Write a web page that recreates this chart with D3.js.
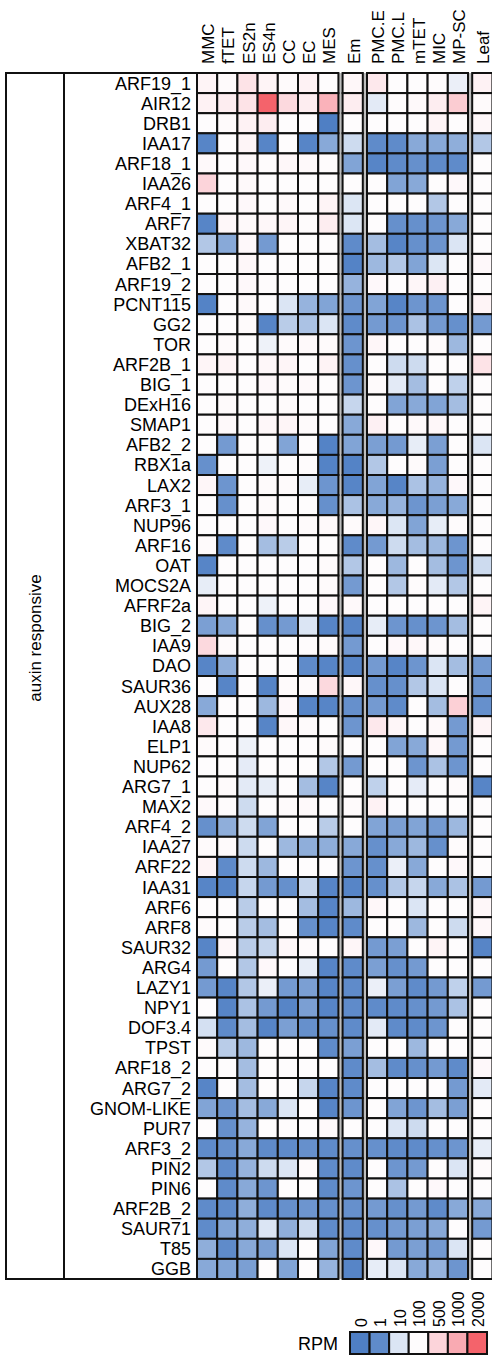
<!DOCTYPE html>
<html>
<head>
<meta charset="utf-8">
<script src="https://cdn.jsdelivr.net/npm/d3@7"></script>
<style>
  body { margin: 0; background: #fff; }
  svg { display: block; font-family: Arial, "Liberation Sans", sans-serif; }
</style>
</head>
<body>
<div id="chart"></div>
<script>
var samples = ["MMC", "fTET", "ES2n", "ES4n", "CC", "EC", "MES", "Em", "PMC.E", "PMC.L", "mTET", "MIC", "MP-SC", "Leaf"]
var sampleGroup = [0, 0, 0, 0, 0, 0, 0, 1, 2, 2, 2, 2, 2, 3]

var genes = ["ARF19_1", "AIR12", "DRB1", "IAA17", "ARF18_1", "IAA26", "ARF4_1", "ARF7", "XBAT32", "AFB2_1",
    "ARF19_2", "PCNT115", "GG2", "TOR", "ARF2B_1", "BIG_1", "DExH16", "SMAP1", "AFB2_2", "RBX1a",
    "LAX2", "ARF3_1", "NUP96", "ARF16", "OAT", "MOCS2A", "AFRF2a", "BIG_2", "IAA9", "DAO",
    "SAUR36", "AUX28", "IAA8", "ELP1", "NUP62", "ARG7_1", "MAX2", "ARF4_2", "IAA27", "ARF22",
    "IAA31", "ARF6", "ARF8", "SAUR32", "ARG4", "LAZY1", "NPY1", "DOF3.4", "TPST", "ARF18_2",
    "ARG7_2", "GNOM-LIKE", "PUR7", "ARF3_2", "PIN2", "PIN6", "ARF2B_2", "SAUR71", "T85", "GGB"]

var groupLabel = "auxin responsive"

// RPM per gene, columns in the order of samples
var rpm = [
    [180, 120, 350, 180, 120, 200, 100, 150, 300, 100, 100, 110, 50, 200],
    [200, 250, 350, 2000, 450, 250, 900, 250, 30, 110, 130, 250, 600, 120],
    [100, 120, 200, 250, 100, 100, 0, 100, 100, 100, 100, 180, 100, 150],
    [0.5, 100, 170, 0.5, 100, 0.5, 4, 9, 1, 1, 4, 4, 4.5, 7],
    [130, 100, 140, 110, 150, 130, 110, 3.5, 0.5, 1, 1.5, 1, 1, 100],
    [500, 100, 130, 100, 100, 100, 100, 100, 100, 3.5, 4, 100, 140, 100],
    [100, 100, 140, 100, 130, 100, 180, 12, 100, 100, 100, 7, 100, 100],
    [0.5, 150, 130, 150, 170, 110, 250, 12, 100, 1.5, 1.5, 2, 4, 100],
    [7, 4, 140, 2.5, 100, 100, 100, 1, 6, 0.5, 1.5, 2, 10, 100],
    [100, 100, 150, 100, 100, 100, 100, 0.3, 5.5, 7, 3.5, 12, 100, 140],
    [100, 100, 140, 110, 100, 100, 100, 5, 140, 100, 160, 220, 100, 100],
    [0.3, 100, 130, 100, 11, 5, 3.5, 2, 3.5, 0.5, 2, 2, 100, 180],
    [100, 100, 120, 0.5, 7.5, 6.5, 10, 1, 2.5, 2, 6.5, 2.5, 1.5, 2.5],
    [100, 120, 100, 60, 120, 130, 120, 2, 160, 100, 100, 120, 5.5, 100],
    [170, 180, 100, 150, 170, 100, 190, 1.5, 100, 9, 9, 100, 100, 350],
    [100, 100, 100, 140, 120, 130, 100, 2, 120, 30, 6, 100, 8, 100],
    [100, 120, 100, 100, 120, 100, 100, 8.5, 100, 3.5, 4, 3.5, 6, 100],
    [100, 130, 100, 150, 170, 120, 100, 4, 220, 100, 130, 150, 100, 100],
    [100, 2.5, 100, 100, 3.5, 100, 0.3, 3.5, 3, 2.5, 40, 3, 100, 11],
    [1.5, 100, 100, 60, 100, 110, 0.3, 0.3, 7, 100, 120, 3, 100, 100],
    [160, 2, 100, 120, 120, 40, 2, 0.5, 3.5, 0.5, 6.5, 5, 140, 100],
    [100, 1.5, 100, 120, 100, 100, 1.5, 6.5, 4, 5, 2, 3, 4, 100],
    [100, 100, 100, 140, 100, 120, 130, 120, 160, 12, 3.5, 40, 110, 100],
    [120, 1, 100, 6, 7.5, 100, 100, 1, 2.5, 9, 6, 5.5, 2, 100],
    [0.5, 100, 100, 100, 100, 100, 120, 7, 100, 5.5, 100, 6, 2, 9],
    [40, 100, 100, 100, 100, 100, 120, 2.5, 100, 7, 110, 30, 7, 100],
    [170, 100, 100, 60, 100, 100, 140, 130, 100, 100, 100, 100, 100, 180],
    [3, 4, 100, 1.5, 2.5, 10, 0.5, 0.5, 40, 2, 1.5, 2, 6, 100],
    [450, 120, 100, 100, 100, 110, 120, 2.5, 100, 140, 150, 120, 100, 100],
    [0.5, 4.5, 100, 100, 100, 1, 0.5, 0.5, 2.5, 0.5, 2, 10, 6, 2.5],
    [100, 0.5, 100, 0.5, 120, 120, 450, 150, 1.5, 1.5, 7, 11, 100, 2],
    [4, 100, 100, 5.5, 140, 0.5, 0.5, 1.5, 2.5, 1, 100, 6, 550, 1.5],
    [300, 100, 100, 0.5, 150, 120, 100, 2, 300, 160, 100, 130, 2.5, 180],
    [120, 100, 60, 100, 100, 100, 120, 100, 100, 3.5, 4, 150, 2.5, 100],
    [100, 100, 35, 100, 100, 100, 7, 2.5, 100, 100, 2, 6.5, 2, 100],
    [100, 120, 30, 40, 100, 6, 0.5, 100, 8, 100, 35, 100, 120, 0.5],
    [130, 110, 9, 100, 120, 130, 100, 120, 200, 100, 100, 100, 100, 100],
    [1.5, 4.5, 9, 3.5, 100, 100, 7.5, 100, 3.5, 3, 3.5, 2.5, 5.5, 100],
    [120, 120, 9, 100, 5.5, 4.5, 4.5, 4, 1.5, 4, 5.5, 1.5, 110, 100],
    [180, 1, 9, 5.5, 100, 100, 100, 2, 1.5, 50, 4, 100, 140, 100],
    [0.5, 0.5, 8.5, 2.5, 1.5, 8.5, 0.5, 0.5, 1.5, 7, 8.5, 4, 6.5, 2.5],
    [100, 100, 7.5, 100, 100, 6, 0.5, 5.5, 150, 100, 11, 100, 100, 150],
    [120, 100, 7.5, 6, 100, 1.5, 0.5, 1, 100, 100, 5.5, 100, 9, 150],
    [0.5, 150, 7.5, 8.5, 150, 120, 100, 160, 2.5, 3, 100, 180, 100, 0.5],
    [2.5, 100, 7, 140, 100, 40, 0.5, 1, 3, 1.5, 2.5, 100, 100, 100],
    [2.5, 0.5, 7, 50, 2.5, 3, 0.5, 1, 50, 3, 1, 2.5, 8, 2.5],
    [100, 0.5, 6.5, 2.5, 0.5, 3, 0.5, 1, 1, 1, 1.5, 2.5, 6.5, 100],
    [9.5, 1, 6, 0.5, 3, 1.5, 1.5, 1, 30, 1, 1, 2, 100, 100],
    [120, 7.5, 5.5, 100, 100, 100, 1, 3, 100, 100, 5.5, 100, 100, 100],
    [100, 100, 6, 100, 100, 100, 100, 1, 6, 1, 1.5, 2.5, 1, 140],
    [0.5, 100, 6, 100, 100, 8.5, 0.5, 1, 100, 100, 100, 100, 2.5, 30],
    [3.5, 2, 6, 4, 10, 100, 0.5, 2, 100, 3.5, 2, 6, 3, 100],
    [100, 1.5, 5, 100, 110, 100, 130, 105, 100, 11, 9, 100, 100, 100],
    [1, 1.5, 4, 1, 1, 1.5, 1, 1.5, 1.5, 1, 1, 1.5, 2, 40],
    [7, 1, 5, 9, 10, 120, 1, 1, 100, 2, 2.5, 100, 10, 120],
    [100, 1, 4, 2, 100, 100, 1, 2, 100, 6.5, 100, 140, 100, 100],
    [1, 1, 4.5, 1, 1.5, 2, 1.5, 1.5, 2.5, 1.5, 2.5, 1, 4, 4],
    [1, 3.5, 4.5, 10, 4.5, 9, 1, 1, 1.5, 2.5, 3, 4, 100, 2.5],
    [4.5, 1, 4, 3, 10, 100, 3.5, 1, 140, 2.5, 3, 2.5, 10, 100],
    [4, 3.5, 3, 100, 3.5, 100, 5, 0.5, 40, 11, 4, 5, 2, 100]
]

var legendValues = [0, 1, 10, 100, 500, 1000, 2000]
var legendColors = ["#4f7fc4", "#5f8bca", "#dbe5f4", "#fefcfd", "#fcd4da", "#f9aab2", "#f4636b"]
var legendTitle = "RPM"

var width = 492, height = 1355
var svg = d3.select("#chart").append("svg")
    .attr("width", width)
    .attr("height", height)

var color = d3.scaleLinear()
    .domain(legendValues)
    .range(legendColors)
    .clamp(true)

var cw = 20.2, gap = 4.2, x0 = 197
var gridTop = 73, gridBottom = 1279

var x = d3.scaleLinear()
    .domain([0, samples.length])
    .range([x0, x0 + samples.length * cw])

function colX(i) {
    return x(i) + sampleGroup[i] * gap
}

var y = d3.scaleBand()
    .domain(genes)
    .range([gridTop, gridBottom])

// grey spacers between the sample groups
var gaps = d3.range(1, 4).map(g => {
    var first = sampleGroup.indexOf(g)
    return [colX(first - 1) + cw, colX(first)]
})
svg.append("g")
    .selectAll("rect")
    .data(gaps)
    .join("rect")
    .attr("x", d => d[0])
    .attr("width", d => d[1] - d[0])
    .attr("y", gridTop)
    .attr("height", gridBottom - gridTop)
    .attr("fill", "#bdbdbd")

var cells = []
rpm.forEach((row, i) => row.forEach((v, j) => cells.push({ gene: genes[i], col: j, v: v })))

svg.append("g")
    .attr("stroke", "#111")
    .attr("stroke-width", 2)
    .selectAll("rect")
    .data(cells)
    .join("rect")
    .attr("x", d => colX(d.col))
    .attr("y", d => y(d.gene))
    .attr("width", cw)
    .attr("height", y.bandwidth())
    .attr("fill", d => color(d.v))

// label frame
svg.append("rect")
    .attr("x", 6)
    .attr("y", gridTop)
    .attr("width", x0 - 6)
    .attr("height", gridBottom - gridTop)
    .attr("fill", "none")
    .attr("stroke", "#111")
    .attr("stroke-width", 2)
svg.append("line")
    .attr("x1", 64).attr("x2", 64)
    .attr("y1", gridTop).attr("y2", gridBottom)
    .attr("stroke", "#111")
    .attr("stroke-width", 2)

svg.append("text")
    .attr("transform", "translate(35,638) rotate(-90)")
    .attr("text-anchor", "middle")
    .attr("dy", "0.35em")
    .attr("font-size", 17)
    .text(groupLabel)

svg.append("g")
    .attr("font-size", 18)
    .attr("text-anchor", "end")
    .selectAll("text")
    .data(genes)
    .join("text")
    .attr("x", 191)
    .attr("y", d => y(d) + y.bandwidth() / 2)
    .attr("dy", "0.36em")
    .text(d => d)

svg.append("g")
    .attr("font-size", 17)
    .selectAll("text")
    .data(samples)
    .join("text")
    .attr("transform", (d, i) => `translate(${colX(i) + cw / 2 + 1},64) rotate(-90)`)
    .attr("dy", "0.36em")
    .text(d => d)

// legend
var lx = d3.scaleBand()
    .domain(legendValues)
    .range([350, 487])

var legend = svg.append("g")
legend.selectAll("rect")
    .data(legendValues)
    .join("rect")
    .attr("x", d => lx(d))
    .attr("y", 1332)
    .attr("width", lx.bandwidth())
    .attr("height", 22)
    .attr("fill", d => color(d))
    .attr("stroke", "#111")
    .attr("stroke-width", 2)
legend.selectAll("text")
    .data(legendValues)
    .join("text")
    .attr("font-size", 16)
    .attr("transform", d => `translate(${lx(d) + lx.bandwidth() / 2 + 1},1327) rotate(-90)`)
    .attr("dy", "0.36em")
    .text(d => d)
legend.append("text")
    .attr("x", 338)
    .attr("y", 1350)
    .attr("text-anchor", "end")
    .attr("font-size", 18)
    .text(legendTitle)
</script>
</body>
</html>
